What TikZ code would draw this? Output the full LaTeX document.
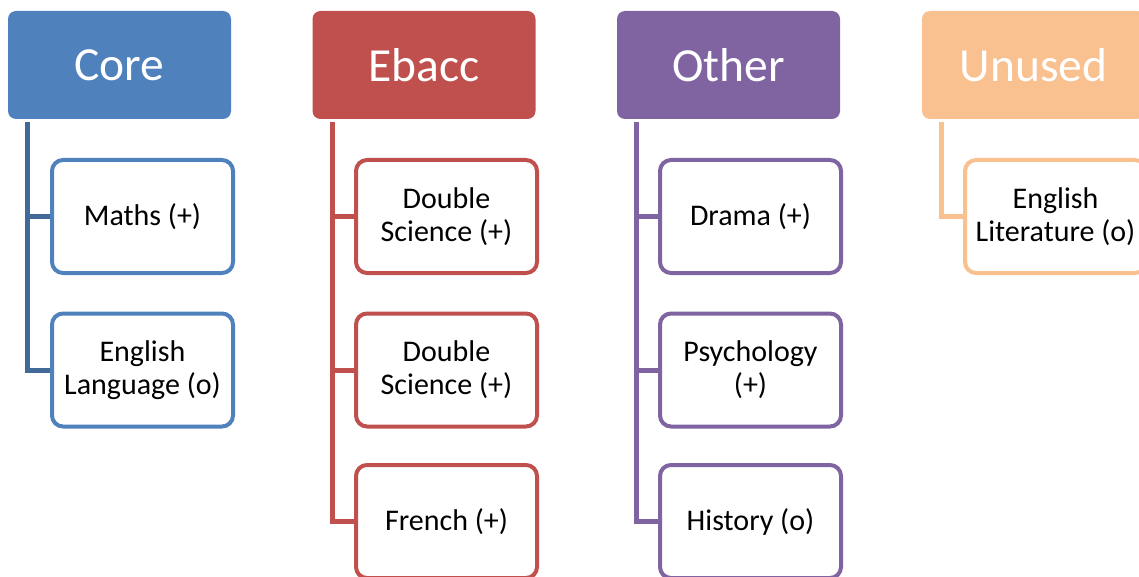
\documentclass[tikz,border=0pt]{standalone}
\usepackage{fontspec}
\setmainfont{Carlito}
\usetikzlibrary{backgrounds}
\definecolor{coreC}{HTML}{4F81BD}
\definecolor{coreL}{HTML}{41699A}
\definecolor{ebaccC}{HTML}{C0504D}
\definecolor{otherC}{HTML}{8064A2}
\definecolor{unusedC}{HTML}{F9C090}
\tikzset{
  header/.style={rectangle, rounded corners=8pt, fill=#1, draw=none,
    minimum width=223pt, minimum height=108pt, inner sep=0pt,
    text=white, font=\fontsize{47.5}{50}\selectfont},
  child/.style={rectangle, rounded corners=11pt, fill=white, draw=#1, line width=4pt,
    minimum width=181pt, minimum height=113pt, inner sep=0pt, align=center,
    text=black, font=\fontsize{30}{33}\selectfont},
  trunk/.style={draw=#1, line width=5pt}
}
\begin{document}
\begin{tikzpicture}[x=1pt,y=-1pt]
\useasboundingbox (0,0) rectangle (1139,577);
% headers
\node[header=coreC] (core) at (119.5,65) {Core};
\node[header=ebaccC] (ebacc) at (424,65) {Ebacc};
\node[header=otherC] (other) at (728.5,65) {Other};
\node[header=unusedC] (unused) at (1033.5,65) {Unused};
% children
\node[child=coreC] (c1) at (142.5,216.5) {Maths (+)};
\node[child=coreC] (c2) at (142.5,370) {English\\Language (o)};
\node[child=ebaccC] (e1) at (446.5,216.5) {Double\\Science (+)};
\node[child=ebaccC] (e2) at (446.5,370) {Double\\Science (+)};
\node[child=ebaccC] (e3) at (446.5,521.5) {French (+)};
\node[child=otherC] (o1) at (750.5,216.5) {Drama (+)};
\node[child=otherC] (o2) at (750.5,370) {Psychology\\(+)};
\node[child=otherC] (o3) at (750.5,521.5) {History (o)};
\node[child=unusedC] (u1) at (1055.5,216.5) {English\\Literature (o)};
\begin{scope}[on background layer]
\coordinate (ct) at ([xshift=20pt,yshift=-3pt]core.south west);
\coordinate (et) at ([xshift=20pt,yshift=-3pt]ebacc.south west);
\coordinate (ot) at ([xshift=20pt,yshift=-3pt]other.south west);
\coordinate (ut) at ([xshift=20pt,yshift=-3pt]unused.south west);
\draw[trunk=coreL] (ct) |- (c2.west);
\draw[trunk=coreL] (ct) |- (c1.west);
\draw[trunk=ebaccC] (et) |- (e3.west);
\draw[trunk=ebaccC] (et) |- (e2.west);
\draw[trunk=ebaccC] (et) |- (e1.west);
\draw[trunk=otherC] (ot) |- (o3.west);
\draw[trunk=otherC] (ot) |- (o2.west);
\draw[trunk=otherC] (ot) |- (o1.west);
\draw[trunk=unusedC] (ut) |- (u1.west);
\end{scope}
\end{tikzpicture}
\end{document}
